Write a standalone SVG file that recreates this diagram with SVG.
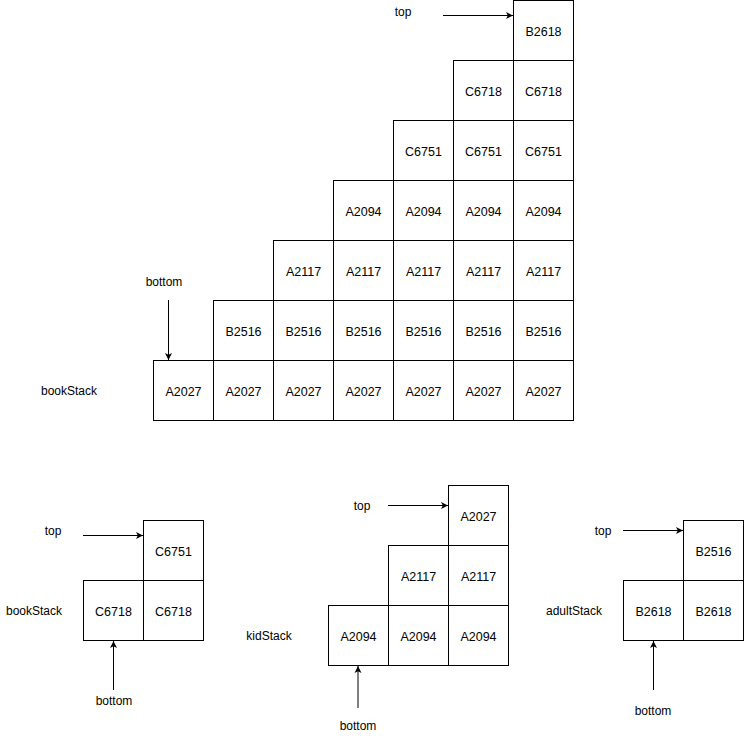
<svg xmlns="http://www.w3.org/2000/svg" width="744" height="736" viewBox="0 0 744 736">
<style>
.c{fill:#fff;stroke:#000;stroke-width:1}
.t{font-family:"Liberation Sans",Arial,sans-serif;font-size:12px;fill:#000;text-anchor:middle}
.v{font-size:12.5px}
.a{stroke:#000;stroke-width:1;fill:none;marker-end:url(#ah)}
</style>
<defs>
<marker id="ah" markerWidth="8" markerHeight="8" refX="7" refY="4" orient="auto" markerUnits="userSpaceOnUse">
<path d="M0,0.5 L7,4 L0,7.5 L1.8,4 Z" fill="#000"/>
</marker>
</defs>
<rect width="744" height="736" fill="#fff"/>

<g id="mainStack">
<g id="m-r0"><rect class="c" x="513.5" y="0.5" width="60" height="60"/><text class="t v" x="543.5" y="36">B2618</text></g>
<g id="m-r1">
<rect class="c" x="453.5" y="60.5" width="60" height="60"/><text class="t v" x="483.5" y="96">C6718</text>
<rect class="c" x="513.5" y="60.5" width="60" height="60"/><text class="t v" x="543.5" y="96">C6718</text>
</g>
<g id="m-r2">
<rect class="c" x="393.5" y="120.5" width="60" height="60"/><text class="t v" x="423.5" y="156">C6751</text>
<rect class="c" x="453.5" y="120.5" width="60" height="60"/><text class="t v" x="483.5" y="156">C6751</text>
<rect class="c" x="513.5" y="120.5" width="60" height="60"/><text class="t v" x="543.5" y="156">C6751</text>
</g>
<g id="m-r3">
<rect class="c" x="333.5" y="180.5" width="60" height="60"/><text class="t v" x="363.5" y="216">A2094</text>
<rect class="c" x="393.5" y="180.5" width="60" height="60"/><text class="t v" x="423.5" y="216">A2094</text>
<rect class="c" x="453.5" y="180.5" width="60" height="60"/><text class="t v" x="483.5" y="216">A2094</text>
<rect class="c" x="513.5" y="180.5" width="60" height="60"/><text class="t v" x="543.5" y="216">A2094</text>
</g>
<g id="m-r4">
<rect class="c" x="273.5" y="240.5" width="60" height="60"/><text class="t v" x="303.5" y="276">A2117</text>
<rect class="c" x="333.5" y="240.5" width="60" height="60"/><text class="t v" x="363.5" y="276">A2117</text>
<rect class="c" x="393.5" y="240.5" width="60" height="60"/><text class="t v" x="423.5" y="276">A2117</text>
<rect class="c" x="453.5" y="240.5" width="60" height="60"/><text class="t v" x="483.5" y="276">A2117</text>
<rect class="c" x="513.5" y="240.5" width="60" height="60"/><text class="t v" x="543.5" y="276">A2117</text>
</g>
<g id="m-r5">
<rect class="c" x="213.5" y="300.5" width="60" height="60"/><text class="t v" x="243.5" y="336">B2516</text>
<rect class="c" x="273.5" y="300.5" width="60" height="60"/><text class="t v" x="303.5" y="336">B2516</text>
<rect class="c" x="333.5" y="300.5" width="60" height="60"/><text class="t v" x="363.5" y="336">B2516</text>
<rect class="c" x="393.5" y="300.5" width="60" height="60"/><text class="t v" x="423.5" y="336">B2516</text>
<rect class="c" x="453.5" y="300.5" width="60" height="60"/><text class="t v" x="483.5" y="336">B2516</text>
<rect class="c" x="513.5" y="300.5" width="60" height="60"/><text class="t v" x="543.5" y="336">B2516</text>
</g>
<g id="m-r6">
<rect class="c" x="153.5" y="360.5" width="60" height="60"/><text class="t v" x="183.5" y="396">A2027</text>
<rect class="c" x="213.5" y="360.5" width="60" height="60"/><text class="t v" x="243.5" y="396">A2027</text>
<rect class="c" x="273.5" y="360.5" width="60" height="60"/><text class="t v" x="303.5" y="396">A2027</text>
<rect class="c" x="333.5" y="360.5" width="60" height="60"/><text class="t v" x="363.5" y="396">A2027</text>
<rect class="c" x="393.5" y="360.5" width="60" height="60"/><text class="t v" x="423.5" y="396">A2027</text>
<rect class="c" x="453.5" y="360.5" width="60" height="60"/><text class="t v" x="483.5" y="396">A2027</text>
<rect class="c" x="513.5" y="360.5" width="60" height="60"/><text class="t v" x="543.5" y="396">A2027</text>
</g>
<g id="m-labels">
<text class="t" x="403" y="16">top</text>
<text class="t" x="164" y="286">bottom</text>
<text class="t" x="69" y="395">bookStack</text>
</g>
</g>

<g id="bookStack2">
<rect class="c" x="143.5" y="520.5" width="60" height="60"/><text class="t v" x="173.5" y="556">C6751</text>
<rect class="c" x="83.5" y="580.5" width="60" height="60"/><text class="t v" x="113.5" y="616">C6718</text>
<rect class="c" x="143.5" y="580.5" width="60" height="60"/><text class="t v" x="173.5" y="616">C6718</text>
<text class="t" x="53" y="535">top</text>
<text class="t" x="34" y="615">bookStack</text>
<text class="t" x="114" y="705">bottom</text>
</g>

<g id="kidStack">
<rect class="c" x="448.5" y="485.5" width="60" height="60"/><text class="t v" x="478.5" y="521">A2027</text>
<rect class="c" x="388.5" y="545.5" width="60" height="60"/><text class="t v" x="418.5" y="581">A2117</text>
<rect class="c" x="448.5" y="545.5" width="60" height="60"/><text class="t v" x="478.5" y="581">A2117</text>
<rect class="c" x="328.5" y="605.5" width="60" height="60"/><text class="t v" x="358.5" y="641">A2094</text>
<rect class="c" x="388.5" y="605.5" width="60" height="60"/><text class="t v" x="418.5" y="641">A2094</text>
<rect class="c" x="448.5" y="605.5" width="60" height="60"/><text class="t v" x="478.5" y="641">A2094</text>
<text class="t" x="362" y="510">top</text>
<text class="t" x="269" y="640">kidStack</text>
<text class="t" x="358" y="730">bottom</text>
</g>

<g id="adultStack">
<rect class="c" x="683.5" y="520.5" width="60" height="60"/><text class="t v" x="713.5" y="556">B2516</text>
<rect class="c" x="623.5" y="580.5" width="60" height="60"/><text class="t v" x="653.5" y="616">B2618</text>
<rect class="c" x="683.5" y="580.5" width="60" height="60"/><text class="t v" x="713.5" y="616">B2618</text>
<text class="t" x="603" y="535">top</text>
<text class="t" x="574" y="615">adultStack</text>
<text class="t" x="653" y="715">bottom</text>
</g>

<g id="connectors">
<line class="a" x1="443" y1="15.5" x2="513" y2="15.5"/>
<line class="a" x1="168.5" y1="300" x2="168.5" y2="360"/>
<line class="a" x1="83" y1="535.5" x2="143" y2="535.5"/>
<line class="a" x1="113.5" y1="690" x2="113.5" y2="641"/>
<line class="a" x1="388" y1="505.5" x2="448" y2="505.5"/>
<line class="a" x1="358" y1="708" x2="358" y2="666"/>
<line class="a" x1="623" y1="530.5" x2="683" y2="530.5"/>
<line class="a" x1="653.5" y1="690" x2="653.5" y2="641"/>
</g>
</svg>
